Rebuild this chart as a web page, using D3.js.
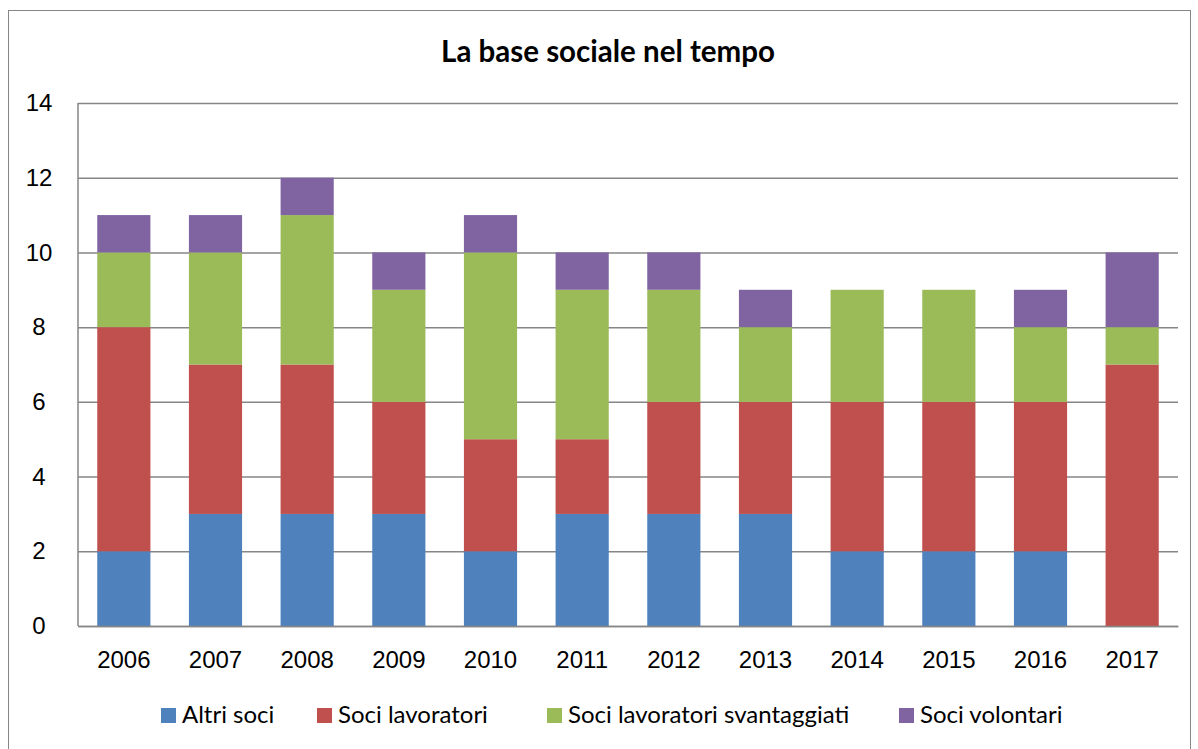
<!DOCTYPE html>
<html>
<head>
<meta charset="utf-8">
<script src="https://cdn.jsdelivr.net/npm/d3@7"></script>
<style>
  body { margin: 0; background: #fff; }
  svg { font-family: Lato, "Open Sans", sans-serif; }
</style>
</head>
<body>
<div id="graf"></div>
<script>
const anni = ["2006", "2007", "2008", "2009", "2010", "2011", "2012", "2013", "2014", "2015", "2016", "2017"]
const serie = ["Altri soci", "Soci lavoratori", "Soci lavoratori svantaggiati", "Soci volontari"]
const altriSoci = [2, 3, 3, 3, 2, 3, 3, 3, 2, 2, 2, 0]
const sociLavoratori = [6, 4, 4, 3, 3, 2, 3, 3, 4, 4, 4, 7]
const sociSvantaggiati = [2, 3, 4, 3, 5, 4, 3, 2, 3, 3, 2, 1]
const sociVolontari = [1, 1, 1, 1, 1, 1, 1, 1, 0, 0, 1, 2]
const yTicks = [0, 2, 4, 6, 8, 10, 12, 14]
const colori = ["#4F81BD", "#C0504D", "#9BBB59", "#8064A2"]

const valori = [altriSoci, sociLavoratori, sociSvantaggiati, sociVolontari]
const tabella = anni.map((a, i) => {
  const r = { anno: a }
  serie.forEach((s, j) => (r[s] = valori[j][i]))
  return r
})

const anchoTotal = 1198
const altoTotal = 749
const margins = { left: 78, top: 103, right: 20, bottom: 123 }
const ancho = anchoTotal - margins.left - margins.right
const alto = altoTotal - margins.top - margins.bottom

const svg = d3.select("#graf")
  .append("svg")
  .attr("width", anchoTotal)
  .attr("height", altoTotal)

// cornice esterna
svg.append("rect")
  .attr("x", 8.5).attr("y", 10.5)
  .attr("width", 1182).attr("height", 760)
  .attr("fill", "none").attr("stroke", "#868686").attr("stroke-width", 1)

svg.append("text")
  .attr("x", 608).attr("y", 62)
  .attr("text-anchor", "middle")
  .attr("font-weight", "bold")
  .attr("font-size", 29.5)
  .text("La base sociale nel tempo")

const g = svg.append("g")
  .attr("transform", `translate(${margins.left}, ${margins.top})`)

const x = d3.scaleBand().domain(anni).range([0, ancho]).paddingInner(0.42).paddingOuter(0.21)
const y = d3.scaleLinear().domain([0, 14]).range([alto, 0])
const colore = d3.scaleOrdinal().domain(serie).range(colori)

// griglia
const yAxis = d3.axisLeft(y).tickValues(yTicks).tickSize(-ancho).tickFormat(d3.format("d"))
const gy = g.append("g").call(yAxis)
gy.select(".domain").remove()
gy.selectAll(".tick line").attr("stroke", "#868686").attr("stroke-width", 1.5)
gy.selectAll(".tick text")
  .attr("x", -39).attr("text-anchor", "middle")
  .attr("font-size", 24).attr("fill", "#000")

const stack = d3.stack().keys(serie)(tabella)

g.append("g")
  .selectAll("g")
  .data(stack)
  .join("g")
  .attr("fill", (d) => colore(d.key))
  .selectAll("rect")
  .data((d) => d)
  .join("rect")
  .attr("x", (d) => x(d.data.anno))
  .attr("width", x.bandwidth())
  .attr("y", (d) => y(d[1]))
  .attr("height", (d) => y(d[0]) - y(d[1]))

// asse sinistro
g.append("line")
  .attr("x1", 0).attr("x2", 0).attr("y1", 0).attr("y2", alto)
  .attr("stroke", "#868686").attr("stroke-width", 1.5)

const xAxis = d3.axisBottom(x).tickSize(0)
const gx = g.append("g").attr("transform", `translate(0, ${alto})`).call(xAxis)
gx.select(".domain").attr("stroke", "#868686").attr("stroke-width", 1.5)
gx.selectAll(".tick text").attr("y", 0).attr("dy", 42).attr("font-size", 24).attr("fill", "#000")

// legenda
const legendaX = [161, 317, 547, 899]
const leg = svg.append("g")
  .selectAll("g")
  .data(serie)
  .join("g")
  .attr("transform", (d, i) => `translate(${legendaX[i]}, 708)`)
leg.append("rect").attr("width", 15).attr("height", 15).attr("fill", (d) => colore(d))
leg.append("text")
  .attr("x", 21).attr("y", 15)
  .attr("font-size", 24)
  .text((d) => d)
</script>
</body>
</html>
